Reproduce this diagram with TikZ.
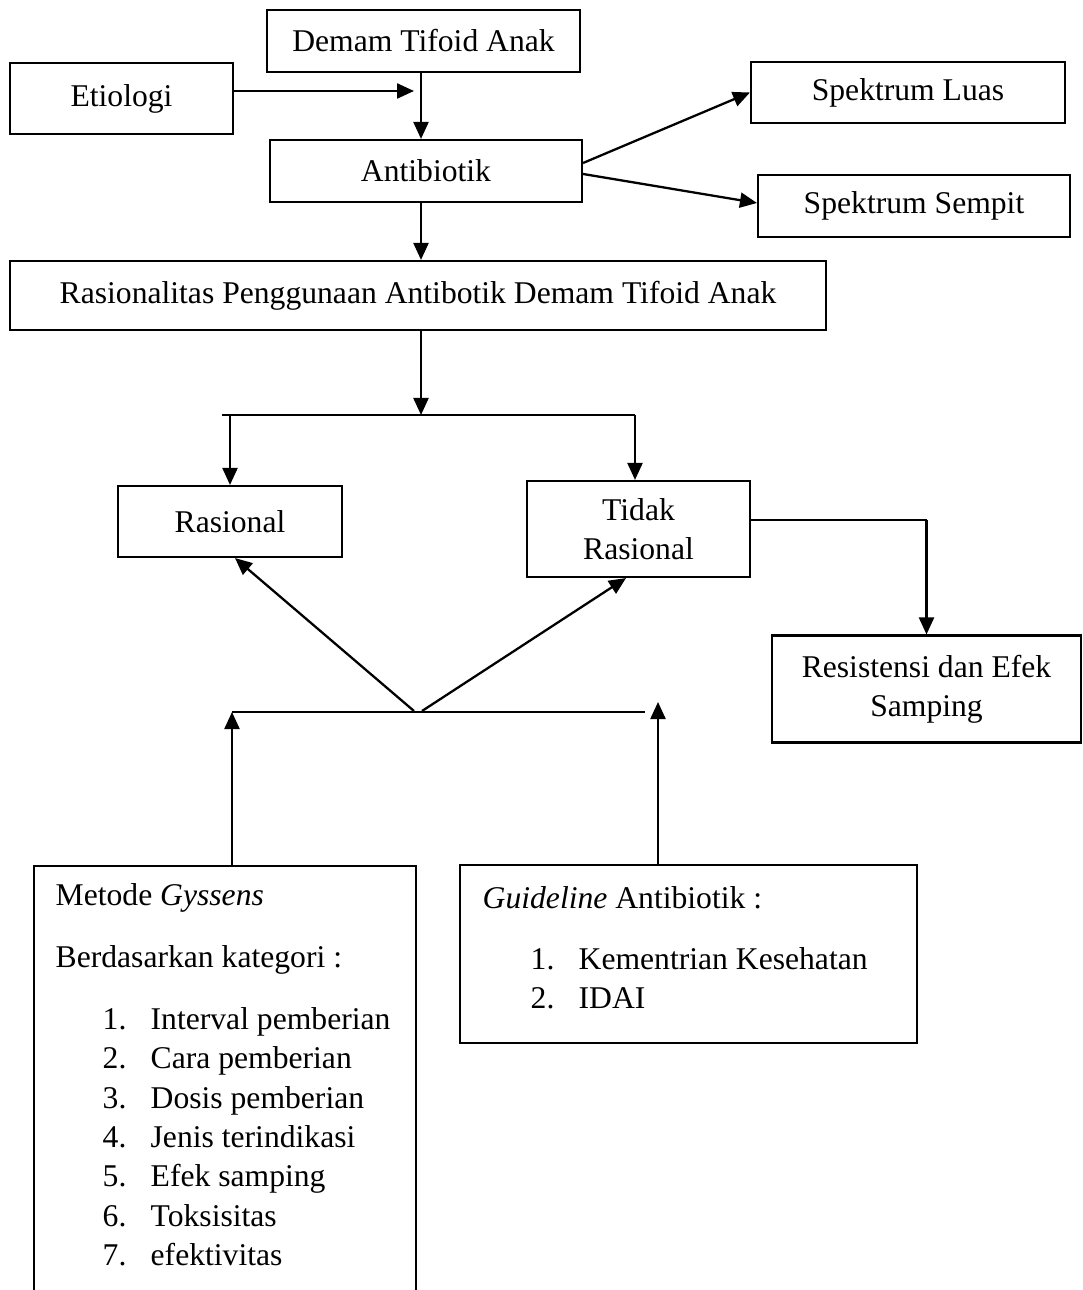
\documentclass[tikz,border=0pt]{standalone}
\usepackage{fontspec}
\setmainfont{Liberation Serif}
\usetikzlibrary{arrows.meta,calc}
\newcommand{\tifont}{\fontsize{9}{11.2}\selectfont}
\newcommand{\butir}[3][4.7mm]{\hspace*{#1}\makebox[4.8mm][l]{#2}#3}
\tikzset{
  kotak/.style={draw, line width=0.6pt, inner sep=0pt, align=center, font=\tifont},
  isi/.style={inner sep=0pt, align=left, anchor=north west, font=\tifont},
  panah/.style={-{Triangle[length=1.7mm,width=1.5mm]}, line width=0.65pt},
  garis/.style={line width=0.35pt},
}
\begin{document}
\begin{tikzpicture}[x=0.1mm, y=-0.1mm]
    \clip (0,0) rectangle (1082,1290);
    \node[kotak, minimum width=31.3mm, minimum height=6.2mm] (demam) at (423.5,41) {Demam Tifoid Anak};
    \node[kotak, minimum width=22.3mm, minimum height=7.1mm] (etio) at (121.5,98.5) {Etiologi};
    \node[kotak, minimum width=31.2mm, minimum height=6.2mm] (antib) at (426,171) {Antibiotik};
    \node[kotak, minimum width=31.4mm, minimum height=6.1mm] (luas) at (908,92.5) {Spektrum Luas};
    \node[kotak, minimum width=31.2mm, minimum height=6.2mm] (sempit) at (914,206) {Spektrum Sempit};
    \node[kotak, minimum width=81.6mm, minimum height=6.9mm] (rasionalitas) at (418,295.5) {Rasionalitas Penggunaan Antibotik Demam Tifoid Anak};
    \node[kotak, minimum width=22.4mm, minimum height=7.1mm] (rasional) at (230,521.5) {Rasional};
    \node[kotak, minimum width=22.3mm, minimum height=9.6mm] (tidak) at (638.5,529) {Tidak\\Rasional};
    \node[kotak, minimum width=30.9mm, minimum height=10.7mm] (resist) at (926.5,689) {Resistensi dan Efek\\Samping};
    \node[kotak, anchor=north west, minimum width=38.2mm, minimum height=45mm] (gys) at (33,865) {};
    \node[kotak, minimum width=45.7mm, minimum height=17.8mm] (guide) at (688.5,954) {};
    \node[isi] (gystxt) at (55,883) {Metode \textit{Gyssens}\\[2.25mm]
      Berdasarkan kategori :\\[2.25mm]
      \butir{1.}{Interval pemberian}\\
      \butir{2.}{Cara pemberian}\\
      \butir{3.}{Dosis pemberian}\\
      \butir{4.}{Jenis terindikasi}\\
      \butir{5.}{Efek samping}\\
      \butir{6.}{Toksisitas}\\
      \butir{7.}{efektivitas}};
    \node[isi] (guidetxt) at (482,886) {\textit{Guideline} Antibiotik :\\[2.1mm]
      \butir[4.8mm]{1.}{Kementrian Kesehatan}\\
      \butir[4.8mm]{2.}{IDAI}};
    % titik bantu
    \coordinate (j1) at (421,91);
    \coordinate (cab) at (421,415);
    \coordinate (cabL) at (222,415);
    \coordinate (cabR) at (635,415);
    \coordinate (puncak) at (418,711);
    \coordinate (dasarL) at (232,712);
    \coordinate (dasarR) at (645,712);
    \coordinate (tipR) at (658,702);
    % atas
    \draw[panah] (etio.east |- j1) -- ([xshift=-0.7mm]j1);
    \draw[panah] (demam.south -| j1) -- (antib.north -| j1);
    \draw[panah] ([yshift=0.8mm]antib.east) -- (luas.west);
    \draw[panah] ([yshift=-0.3mm]antib.east) -- ([yshift=0.3mm]sempit.west);
    \draw[panah] (antib.south -| j1) -- (rasionalitas.north -| j1);
    \draw[panah] (rasionalitas.south -| cab) -- (cab);
    % cabang
    \draw[garis] (cabL) -- (cabR);
    \draw[panah] (rasional.north |- cab) -- (rasional.north);
    \draw[panah] (cabR) -- (tidak.north -| cabR);
    \path ([yshift=0.9mm]tidak.east) coordinate (tk);
    \draw[garis] (tk) -- (tk -| resist.north) coordinate (belok);
    \draw[panah] (belok) -- (resist.north);
    % bawah
    \draw[panah] ([xshift=-0.4mm]puncak) -- ([xshift=0.5mm]rasional.south);
    \draw[panah] ([xshift=0.4mm]puncak) -- ([xshift=-1.25mm]tidak.south);
    \draw[garis] (dasarL) -- (dasarR);
    \draw[panah] (gys.north -| dasarL) -- (dasarL);
    \draw[panah] (guide.north -| tipR) -- (tipR);
  \end{tikzpicture}
\end{document}
